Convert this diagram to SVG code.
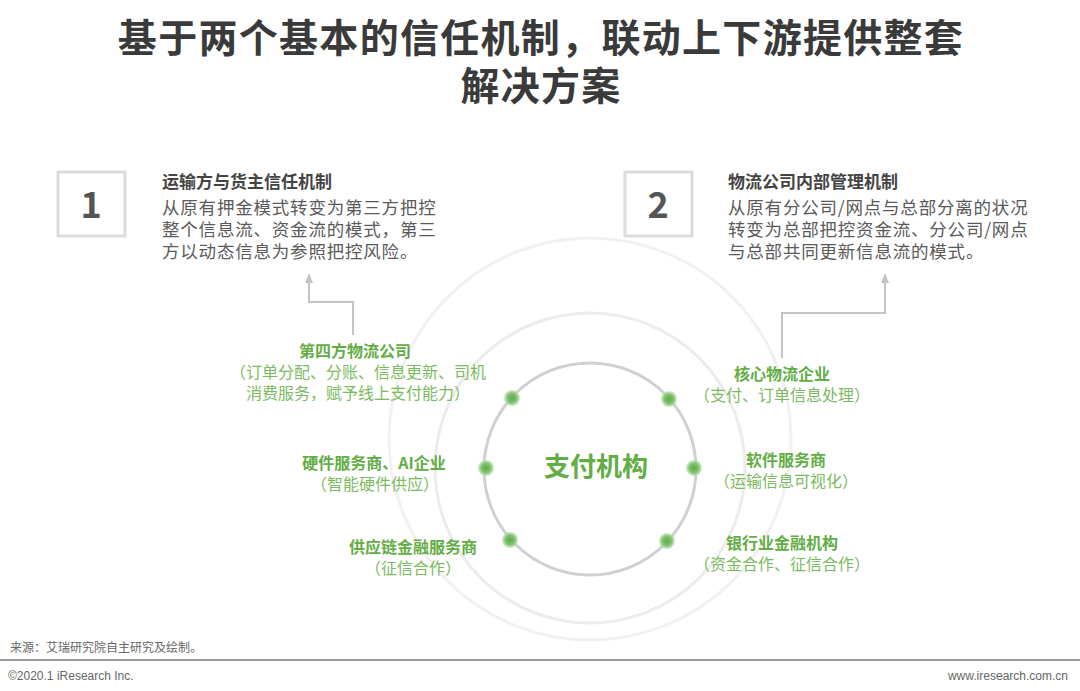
<svg xmlns="http://www.w3.org/2000/svg" width="1080" height="691" viewBox="0 0 1080 691">
<style>
text{font-family:"Noto Sans CJK SC","Noto Sans",sans-serif}
.title{font-size:39px;font-weight:bold;fill:#3a3a3a;text-anchor:middle;letter-spacing:1.3px}
.num{font-size:36px;font-weight:bold;fill:#555;text-anchor:middle}
.box{fill:#fff;stroke:#dcdcdc;stroke-width:3}
.head{font-size:17px;font-weight:bold;fill:#444}
.body{font-size:17.5px;fill:#5a5a5a;letter-spacing:0.8px}
.gh{font-size:16px;font-weight:bold;fill:#63ad45;text-anchor:middle}
.gs{font-size:16px;fill:#7cba62;text-anchor:middle}
.center{font-size:26px;font-weight:bold;fill:#63ad45;text-anchor:middle}
.ring{fill:none}
.conn{fill:none;stroke:#c4c4c4;stroke-width:2}
.foot{font-size:12px;fill:#666}
.dot{fill:url(#dotg)}
</style>
<defs>
<radialGradient id="dotg">
<stop offset="0" stop-color="#5fa94a"/>
<stop offset="0.6" stop-color="#82c270"/>
<stop offset="1" stop-color="#b8dfae" stop-opacity="0.6"/>
</radialGradient>
<marker id="arr" viewBox="0 0 10 10" refX="5" refY="5" markerWidth="5" markerHeight="5" orient="auto">
<path d="M0,1 L10,5 L0,9 Z" fill="#c4c4c4"/>
</marker>
</defs>
<rect width="1080" height="691" fill="#fff"/>

<g id="title">
<text class="title" x="541" y="52">基于两个基本的信任机制，联动上下游提供整套</text>
<text class="title" x="541" y="100">解决方案</text>
</g>

<g id="rings">
<circle class="ring" cx="590" cy="439" r="201" stroke="#f1f1f1" stroke-width="3"/>
<circle class="ring" cx="590" cy="468" r="155" stroke="#ececec" stroke-width="3"/>
<circle class="ring" cx="590" cy="469" r="106" stroke="#d0d0d0" stroke-width="3"/>
</g>

<g id="connectors">
<path class="conn" d="M353,335 V302 H309 V278" marker-end="url(#arr)"/>
<path class="conn" d="M782,358 V313 H885 V278" marker-end="url(#arr)"/>
</g>

<g id="mechanism1">
<rect class="box" x="58" y="172" width="67" height="64"/>
<text class="num" x="91" y="218">1</text>
<text class="head" x="162" y="188">运输方与货主信任机制</text>
<text class="body" x="162" y="214">从原有押金模式转变为第三方把控</text>
<text class="body" x="162" y="236">整个信息流、资金流的模式，第三</text>
<text class="body" x="162" y="258">方以动态信息为参照把控风险。</text>
</g>

<g id="mechanism2">
<rect class="box" x="625" y="172" width="67" height="64"/>
<text class="num" x="658" y="218">2</text>
<text class="head" x="728" y="188">物流公司内部管理机制</text>
<text class="body" x="728" y="214">从原有分公司/网点与总部分离的状况</text>
<text class="body" x="728" y="236">转变为总部把控资金流、分公司/网点</text>
<text class="body" x="728" y="258">与总部共同更新信息流的模式。</text>
</g>

<g id="payment">
<text class="center" x="596" y="476">支付机构</text>
</g>

<g id="dots">
<circle class="dot" cx="512" cy="398" r="8"/>
<circle class="dot" cx="669" cy="399" r="8"/>
<circle class="dot" cx="486" cy="468" r="8"/>
<circle class="dot" cx="694" cy="468" r="8"/>
<circle class="dot" cx="510" cy="540" r="8"/>
<circle class="dot" cx="667" cy="541" r="8"/>
</g>

<g id="fourth-party">
<text class="gh" x="355" y="357">第四方物流公司</text>
<text class="gs" x="358" y="378">（订单分配、分账、信息更新、司机</text>
<text class="gs" x="358" y="399">消费服务，赋予线上支付能力）</text>
</g>

<g id="hardware">
<text class="gh" x="374" y="469">硬件服务商、AI企业</text>
<text class="gs" x="375" y="490">（智能硬件供应）</text>
</g>

<g id="supply-finance">
<text class="gh" x="413" y="553">供应链金融服务商</text>
<text class="gs" x="413" y="574">（征信合作）</text>
</g>

<g id="core-logistics">
<text class="gh" x="782" y="380">核心物流企业</text>
<text class="gs" x="782" y="401">（支付、订单信息处理）</text>
</g>

<g id="software">
<text class="gh" x="786" y="466">软件服务商</text>
<text class="gs" x="786" y="487">（运输信息可视化）</text>
</g>

<g id="bank">
<text class="gh" x="782" y="549">银行业金融机构</text>
<text class="gs" x="782" y="570">（资金合作、征信合作）</text>
</g>

<g id="footer">
<text class="foot" x="10" y="652">来源：艾瑞研究院自主研究及绘制。</text>
<line x1="0" y1="660" x2="1080" y2="660" stroke="#9a9a9a" stroke-width="2"/>
<text class="foot" x="8" y="680" style="font-family:'Liberation Sans',sans-serif">©2020.1 iResearch Inc.</text>
<text class="foot" x="1068" y="680" text-anchor="end" style="font-family:'Liberation Sans',sans-serif">www.iresearch.com.cn</text>
</g>
</svg>
